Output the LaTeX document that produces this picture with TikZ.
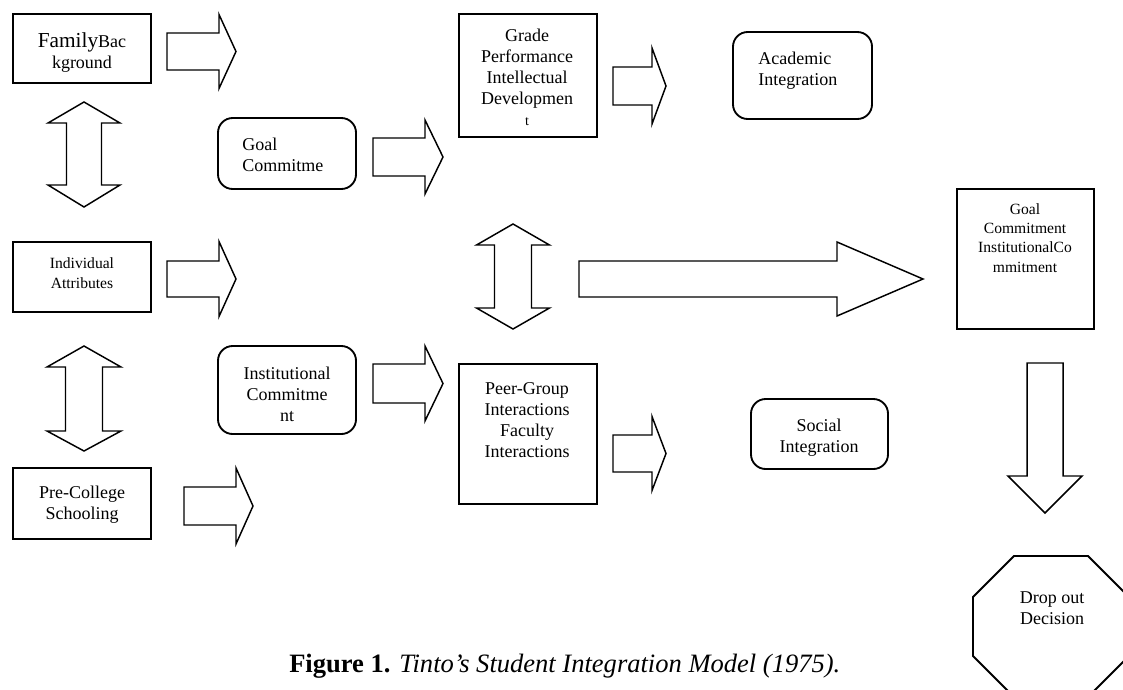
\documentclass[tikz,border=0pt]{standalone}
\usepackage{fontspec}
\setmainfont{Liberation Serif}
\usetikzlibrary{fit}
\newcommand{\blkR}[6]{\draw[blk] (#1,#4-#5) -- (#2,#4-#5) -- (#2,#4-#6) -- (#3,#4) -- (#2,#4+#6) -- (#2,#4+#5) -- (#1,#4+#5) -- cycle;}
\newcommand{\blkUD}[7]{\draw[blk] (#1,#2) -- (#1+#7,#3) -- (#1+#6,#3) -- (#1+#6,#4) -- (#1+#7,#4) -- (#1,#5) -- (#1-#7,#4) -- (#1-#6,#4) -- (#1-#6,#3) -- (#1-#7,#3) -- cycle;}
\newcommand{\blkD}[6]{\draw[blk] (#1-#5,#2) -- (#1+#5,#2) -- (#1+#5,#3) -- (#1+#6,#3) -- (#1,#4) -- (#1-#6,#3) -- (#1-#5,#3) -- cycle;}
\begin{document}
\begin{tikzpicture}[x=0.75pt,y=-0.75pt,
  box/.style={draw, line width=1.4pt, inner sep=0pt},
  rbox/.style={box, rounded corners=11pt},
  blk/.style={draw, line width=1.1pt, line join=miter, fill=white},
  lbl/.style={inner sep=0pt, align=center, font={\fontsize{13.5}{15.75}\selectfont}},
  lbll/.style={lbl, align=left},
  slbl/.style={inner sep=0pt, align=center, font={\fontsize{11.7}{14.5}\selectfont}},
  captext/.style={inner sep=0pt, font={\fontsize{19.9}{24}\selectfont}}]
\useasboundingbox (0,0) rectangle (1123,689);
\clip (0,0) rectangle (1123,689);
\fill[white] (0,0) rectangle (1123,689);

% boxes
\node[box, fit={(13,14) (151,83)}] (fam) {};
\node[box, fit={(13,242) (151,312)}] (ind) {};
\node[box, fit={(13,468) (151,539)}] (pre) {};
\node[rbox, fit={(218,118) (356,189)}] (goal) {};
\node[rbox, fit={(218,346) (356,434)}] (inst) {};
\node[box, fit={(459,14) (597,137)}] (grade) {};
\node[box, fit={(459,364) (597,504)}] (peer) {};
\node[rbox, fit={(733,32) (872,119)}] (acad) {};
\node[rbox, fit={(751,399) (888,469)}] (soc) {};
\node[box, fit={(957,189) (1094,329)}] (gc) {};
\draw[box] (1014,556) -- (1088,556) -- (1129,597) -- (1129,656) -- (1088,697) -- (1014,697) -- (973,656) -- (973,597) -- cycle;

% texts (anchor=base is the baseline of the last line)
\node[lbl, anchor=base] (famt) at (82,68) {{\fontsize{16}{15.75}\selectfont Family}Bac\\kground};
\node[slbl, anchor=base] (indt) at (82,288) {Individual\\Attributes};
\node[lbl, anchor=base] (pret) at (82,519) {Pre-College\\Schooling};
\node[lbll, anchor=base west] (goalt) at (242,171) {Goal\\Commitme};
\node[lbl, anchor=base] (instt) at (287,421) {Institutional\\Commitme\\nt};
\node[lbl, anchor=base] (gradet) at (527,125) {Grade\\Performance\\Intellectual\\Developmen\\{\fontsize{10.5}{10}\selectfont t}};
\node[lbl, anchor=base] (peert) at (527,457) {Peer-Group\\Interactions\\Faculty\\Interactions};
\node[lbll, anchor=base west] (acadt) at (758,85) {Academic\\Integration};
\node[lbl, anchor=base] (soct) at (819,452) {Social\\Integration};
\node[slbl, anchor=base] (gct) at (1025,272) {Goal\\Commitment\\InstitutionalCo\\mmitment};
\node[lbl, anchor=base] (drop) at (1052,624) {Drop out\\Decision};
\node[captext, anchor=base west] (caption) at (289,672) {{\bfseries Figure 1.} {\itshape Tinto’s Student Integration Model (1975).}};

% block arrows
\blkR{167}{219}{236}{51.5}{18.5}{37}
\blkR{373}{425}{443}{157}{19}{37}
\blkR{167}{219}{236}{279}{18}{37.5}
\blkR{373}{425}{443}{383.5}{19.5}{37.5}
\blkR{184}{236}{253}{506}{19}{38}
\blkR{613}{652}{666}{86}{19}{38}
\blkR{613}{652}{666}{453.5}{18.5}{37}
\blkR{579}{837}{923}{279}{18}{37}
\blkUD{84}{102}{123}{185}{207}{17.5}{36}
\blkUD{84}{346}{367}{431}{451}{18.5}{37}
\blkUD{513}{224}{245}{308}{329}{18.5}{36.5}
\blkD{1045}{363}{476}{513}{18}{37}
\end{tikzpicture}
\end{document}
